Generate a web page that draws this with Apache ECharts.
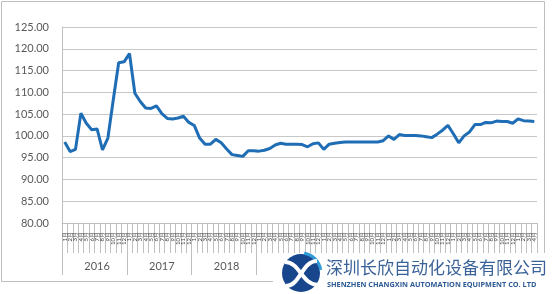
<!DOCTYPE html>
<html>
<head>
<meta charset="utf-8">
<script src="https://cdn.jsdelivr.net/npm/echarts@6/dist/echarts.min.js"></script>
<style>html,body{margin:0;padding:0;background:#fff;}#c{width:554px;height:294px;}</style>
</head>
<body>
<div id="c"></div>
<script>
// Data (monthly index, Jan 2016 - Apr 2023)
const years = ['2016','2017','2018','2019','2020','2021','2022','2023'];
const monthNames = ['1月','2月','3月','4月','5月','6月','7月','8月','9月','10月','11月','12月'];
const values = [
  98.6, 96.4, 96.9, 105.2, 102.9, 101.4, 101.6, 96.8, 99.5, 108.3, 116.8, 117.0,
  118.9, 109.8, 107.9, 106.4, 106.3, 106.9, 105.1, 104.0, 103.9, 104.1, 104.5, 103.1,
  102.4, 99.5, 98.1, 98.1, 99.2, 98.4, 97.0, 95.7, 95.5, 95.3, 96.6, 96.6,
  96.5, 96.7, 97.1, 97.9, 98.3, 98.1, 98.1, 98.1, 98.0, 97.5, 98.2, 98.4,
  96.9, 98.1, 98.3, 98.5, 98.6, 98.6, 98.6, 98.6, 98.6, 98.6, 98.6, 98.9,
  100.0, 99.2, 100.3, 100.1, 100.1, 100.1, 100.0, 99.8, 99.6, 100.4, 101.3, 102.4,
  100.5, 98.4, 100.0, 100.9, 102.6, 102.6, 103.1, 103.0, 103.4, 103.3, 103.3, 102.9,
  103.9, 103.5, 103.4, 103.3
];
const yMin = 80, yMax = 125, yStep = 5;

const monthLabels = [];
const yearOfIndex = [];
for (let i = 0; i < values.length; i++) {
  monthLabels.push(monthNames[i % 12]);
  yearOfIndex.push(years[Math.floor(i / 12)]);
}
const n = values.length;

const chart = echarts.init(document.getElementById('c'), null, {renderer: 'canvas'});
const gray = '#bfbfbf';
const txt = '#595959';
chart.setOption({
  animation: false,
  backgroundColor: '#fff',
  grid: {left: 62, right: 17, top: 27, bottom: 71},
  xAxis: [
    {
      type: 'category', data: monthLabels, position: 'bottom',
      axisLine: {show: true, lineStyle: {color: gray, width: 1}},
      axisTick: {show: true, length: 30, lineStyle: {color: gray}},
      axisLabel: {interval: 0, rotate: 90, fontSize: 6, color: '#404040', margin: 9, fontFamily: 'Lato'},
      splitLine: {show: false}
    },
    {
      type: 'category', data: yearOfIndex, position: 'bottom', offset: 30,
      axisLine: {show: false},
      axisTick: {show: true, length: 22, interval: function (i) { return i % 12 === 0; }, lineStyle: {color: gray}},
      axisLabel: {
        interval: function (i) { return i % 12 === 6 || i === n - 2; },
        fontSize: 11, color: txt, margin: 8, fontFamily: 'Lato'
      },
      splitLine: {show: false}
    }
  ],
  yAxis: {
    type: 'value', min: yMin, max: yMax, interval: yStep,
    axisLine: {show: true, lineStyle: {color: gray}},
    axisTick: {show: false},
    axisLabel: {formatter: v => v.toFixed(2), fontSize: 11, color: txt, margin: 13, fontFamily: 'Lato'},
    splitLine: {show: true, lineStyle: {color: '#c8c8c8', width: 1}}
  },
  series: [{
    type: 'line', data: values, xAxisIndex: 0, symbol: 'none',
    lineStyle: {color: '#1f6db5', width: 3}, smooth: false
  }],
  graphic: [
    {type: 'rect', shape: {x: 1.5, y: 1.5, width: 543, height: 280}, style: {fill: 'none', stroke: gray, lineWidth: 1}, z: 50, silent: true},
    {type: 'rect', shape: {x: 273, y: 253, width: 281, height: 41}, style: {fill: '#fff'}, z: 100, silent: true},
    {type: 'circle', shape: {cx: 301, cy: 273, r: 19}, style: {fill: '#17468c'}, z: 101},
    {type: 'arc', shape: {cx: 301, cy: 273, r: 20, startAngle: -Math.PI * 0.45, endAngle: -Math.PI * 0.05}, style: {stroke: '#2f9ad8', lineWidth: 3, fill: 'none'}, z: 102},
    {type: 'bezierCurve', shape: {x1: 285, y1: 262, x2: 318, y2: 285, cpx1: 300, cpy1: 262, cpx2: 302, cpy2: 285}, style: {stroke: '#fff', lineWidth: 4, fill: 'none'}, z: 102},
    {type: 'bezierCurve', shape: {x1: 286, y1: 286, x2: 317, y2: 261, cpx1: 300, cpy1: 286, cpx2: 302, cpy2: 261}, style: {stroke: '#fff', lineWidth: 4, fill: 'none'}, z: 102},
    {type: 'text', x: 326, y: 268, style: {text: '深圳长欣自动化设备有限公司', fill: '#3a6298', fontSize: 17, fontFamily: 'Noto Sans CJK SC', verticalAlign: 'middle'}, z: 103},
    {type: 'text', x: 327, y: 285, style: {text: 'SHENZHEN CHANGXIN AUTOMATION EQUIPMENT CO. LTD', fill: '#2d5a94', fontSize: 7.3, fontWeight: 'bold', fontFamily: 'Open Sans', verticalAlign: 'middle'}, z: 103}
  ]
});
</script>
</body>
</html>
